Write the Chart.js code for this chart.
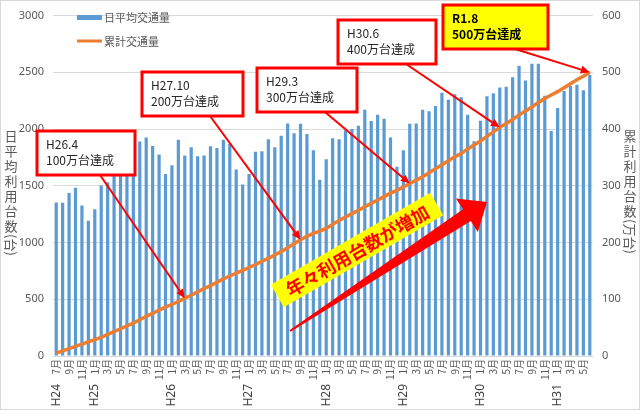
<!DOCTYPE html>
<html>
<head>
<meta charset="utf-8">
<script src="https://cdn.jsdelivr.net/npm/chart.js@4"></script>
<style>
  html, body { margin: 0; padding: 0; background: #fff; }
</style>
</head>
<body>
<canvas id="chart" width="640" height="410"></canvas>
<script>
// months, H24.7 .. H31.6
const months = [
  'H24.7', 'H24.8', 'H24.9', 'H24.10', 'H24.11', 'H24.12',
  'H25.1', 'H25.2', 'H25.3', 'H25.4', 'H25.5', 'H25.6', 'H25.7', 'H25.8', 'H25.9', 'H25.10', 'H25.11', 'H25.12',
  'H26.1', 'H26.2', 'H26.3', 'H26.4', 'H26.5', 'H26.6', 'H26.7', 'H26.8', 'H26.9', 'H26.10', 'H26.11', 'H26.12',
  'H27.1', 'H27.2', 'H27.3', 'H27.4', 'H27.5', 'H27.6', 'H27.7', 'H27.8', 'H27.9', 'H27.10', 'H27.11', 'H27.12',
  'H28.1', 'H28.2', 'H28.3', 'H28.4', 'H28.5', 'H28.6', 'H28.7', 'H28.8', 'H28.9', 'H28.10', 'H28.11', 'H28.12',
  'H29.1', 'H29.2', 'H29.3', 'H29.4', 'H29.5', 'H29.6', 'H29.7', 'H29.8', 'H29.9', 'H29.10', 'H29.11', 'H29.12',
  'H30.1', 'H30.2', 'H30.3', 'H30.4', 'H30.5', 'H30.6', 'H30.7', 'H30.8', 'H30.9', 'H30.10', 'H30.11', 'H30.12',
  'H31.1', 'H31.2', 'H31.3', 'H31.4', 'H31.5', 'H31.6'
];

// 日平均交通量 (台)
const dailyTraffic = [
  1353, 1350, 1437, 1483, 1327, 1192,
  1293, 1503, 1532, 1696, 1678, 1733, 1804, 1890, 1925, 1850, 1776, 1603,
  1681, 1905, 1767, 1839, 1761, 1767, 1848, 1833, 1905, 1868, 1643, 1511,
  1603, 1799, 1804, 1911, 1839, 1942, 2049, 1963, 2046, 1957, 1813, 1554,
  1733, 1920, 1911, 1990, 2000, 2030, 2170, 2071, 2126, 2092, 1925, 1668,
  1813, 2046, 2048, 2170, 2158, 2204, 2320, 2258, 2307, 2280, 2126, 1893,
  2074, 2290, 2316, 2366, 2373, 2456, 2557, 2428, 2575, 2575, 2293, 1984,
  2185, 2336, 2379, 2390, 2342, 2477
];

// 累計交通量 (万台)
const cumulative = [
  5, 9, 13, 17, 21, 25,
  29, 33, 38, 43, 48, 53, 58, 64, 70, 75, 81, 86,
  91, 96, 102, 107, 113, 119, 124, 130, 136, 141, 146, 151,
  156, 161, 167, 172, 178, 184, 191, 198, 205, 211, 216, 220,
  225, 232, 239, 245, 251, 257, 263, 269, 275, 281, 287, 292,
  298, 304, 310, 316, 323, 330, 337, 344, 351, 357, 365, 372,
  379, 387, 395, 403, 410, 417, 425, 432, 439, 447, 454, 460,
  466, 473, 480, 487, 493, 500
];

// milestone callouts: which month the arrow points at
const milestoneIndex = [20, 38, 55, 69, 83];
const milestoneText = [
  ['H26.4', '100万台達成'],
  ['H27.10', '200万台達成'],
  ['H29.3', '300万台達成'],
  ['H30.6', '400万台達成'],
  ['R1.8', '500万台達成']
];

const leftTicks = [0, 3000, 500];
const rightTicks = [0, 600, 100];

const JP = '"Noto Sans CJK JP", "Noto Sans", sans-serif';
const NUM = '"Noto Sans", "DejaVu Sans", sans-serif';
const GREY = '#595959';

// box geometry for the callouts, and where each arrow leaves the box
const boxes = [
  { x: 37, y: 131, w: 98, h: 44, from: [100, 175] },
  { x: 142, y: 72, w: 101, h: 44, from: [210, 116] },
  { x: 257, y: 68, w: 100, h: 44, from: [325, 112] },
  { x: 338, y: 20, w: 98, h: 44, from: [406, 64] },
  { x: 443, y: 5, w: 105, h: 44, from: [515, 49], fill: '#ffff00', bold: true }
];

function arrow(ctx, x0, y0, x1, y1) {
  const a = Math.atan2(y1 - y0, x1 - x0);
  const c = Math.cos(a), s = Math.sin(a);
  const hl = 9, hw = 4;
  ctx.strokeStyle = '#ff0000';
  ctx.fillStyle = '#ff0000';
  ctx.lineWidth = 2;
  ctx.beginPath();
  ctx.moveTo(x0, y0);
  ctx.lineTo(x1 - hl * c, y1 - hl * s);
  ctx.stroke();
  ctx.beginPath();
  ctx.moveTo(x1, y1);
  ctx.lineTo(x1 - hl * c + hw * s, y1 - hl * s - hw * c);
  ctx.lineTo(x1 - hl * c - hw * s, y1 - hl * s + hw * c);
  ctx.closePath();
  ctx.fill();
}

function verticalTitle(ctx, cx, top, chars, unit) {
  ctx.font = '13px ' + JP;
  ctx.fillStyle = GREY;
  ctx.textAlign = 'center';
  ctx.textBaseline = 'middle';
  let y = top;
  for (const ch of chars) {
    ctx.fillText(ch, cx, y + 7);
    y += 15;
  }
  // unit in brackets is turned sideways
  const w = ctx.measureText(unit).width;
  ctx.save();
  ctx.translate(cx, y + w / 2);
  ctx.rotate(Math.PI / 2);
  ctx.fillText(unit, 0, 0);
  ctx.restore();
}

const decorations = {
  id: 'decorations',
  beforeDraw(chart) {
    const ctx = chart.ctx;
    ctx.save();
    ctx.fillStyle = '#fff';
    ctx.fillRect(0, 0, chart.width, chart.height);
    ctx.restore();
  },
  afterDatasetsDraw(chart) {
    const ctx = chart.ctx;
    const xs = chart.scales.x, yr = chart.scales.y1;
    ctx.save();

    // legend, top-left inside the plot
    const ds = chart.data.datasets;
    ctx.font = '11px ' + JP;
    ctx.textAlign = 'left';
    ctx.textBaseline = 'middle';
    ctx.fillStyle = ds[0].backgroundColor;
    ctx.fillRect(77, 15, 25, 5);
    ctx.fillStyle = GREY;
    ctx.fillText(ds[0].label, 104, 18);
    ctx.strokeStyle = ds[1].borderColor;
    ctx.lineWidth = 3;
    ctx.beginPath(); ctx.moveTo(77, 41); ctx.lineTo(102, 41); ctx.stroke();
    ctx.fillText(ds[1].label, 104, 42);

    // yellow banner
    ctx.save();
    ctx.translate(357, 250);
    ctx.rotate(-30 * Math.PI / 180);
    ctx.fillStyle = '#ffff00';
    ctx.fillRect(-92, -13, 184, 26);
    ctx.fillStyle = '#ff0000';
    ctx.font = 'bold 18px ' + JP;
    ctx.textAlign = 'center';
    ctx.textBaseline = 'middle';
    ctx.fillText('年々利用台数が増加', 0, 1);
    ctx.restore();

    // big red arrow
    const tail = [290, 331], tip = [487, 202];
    const len = Math.hypot(tip[0] - tail[0], tip[1] - tail[1]);
    const u = [(tip[0] - tail[0]) / len, (tip[1] - tail[1]) / len];
    const n = [-u[1], u[0]];
    const base = [tip[0] - 24 * u[0], tip[1] - 24 * u[1]];
    const P = (p, k) => [p[0] + k * n[0], p[1] + k * n[1]];
    const pts = [P(tail, -1), P(base, -7), P(base, -20), tip, P(base, 20), P(base, 7), P(tail, 1)];
    ctx.fillStyle = '#ff0000';
    ctx.beginPath();
    pts.forEach((p, i) => i ? ctx.lineTo(p[0], p[1]) : ctx.moveTo(p[0], p[1]));
    ctx.closePath();
    ctx.fill();

    // callout arrows to the cumulative line
    milestoneIndex.forEach((idx, i) => {
      const b = boxes[i];
      arrow(ctx, b.from[0], b.from[1], xs.getPixelForValue(idx), yr.getPixelForValue(cumulative[idx]));
    });

    // callout boxes
    milestoneText.forEach((lines, i) => {
      const b = boxes[i];
      ctx.fillStyle = b.fill || '#fff';
      ctx.fillRect(b.x, b.y, b.w, b.h);
      ctx.strokeStyle = '#ff0000';
      ctx.lineWidth = 3;
      ctx.strokeRect(b.x, b.y, b.w, b.h);
      ctx.fillStyle = b.bold ? '#000' : '#262626';
      ctx.font = (b.bold ? 'bold ' : '') + '12px ' + JP;
      ctx.textAlign = 'left';
      ctx.textBaseline = 'middle';
      ctx.fillText(lines[0], b.x + 9, b.y + 13);
      ctx.fillText(lines[1], b.x + 9, b.y + 29);
    });

    // axis titles, written vertically
    verticalTitle(ctx, 11, 129, '日平均利用台数', '(台)');
    verticalTitle(ctx, 630, 129, '累計利用台数', '(万台)');

    // outer frame
    ctx.strokeStyle = '#d9d9d9';
    ctx.lineWidth = 1;
    ctx.strokeRect(0.5, 0.5, chart.width - 1, chart.height - 1);
    ctx.restore();
  }
};

new Chart(document.getElementById('chart'), {
  data: {
    labels: months,
    datasets: [
      {
        type: 'bar',
        label: '日平均交通量',
        data: dailyTraffic,
        backgroundColor: '#5b9bd5',
        yAxisID: 'y',
        xAxisID: 'x',
        barPercentage: 0.5,
        categoryPercentage: 1,
        order: 2
      },
      {
        type: 'line',
        label: '累計交通量',
        data: cumulative,
        borderColor: '#ed7d31',
        backgroundColor: '#ed7d31',
        borderWidth: 3.5,
        pointRadius: 0,
        tension: 0,
        yAxisID: 'y1',
        xAxisID: 'x',
        order: 1
      }
    ]
  },
  options: {
    responsive: false,
    animation: false,
    layout: { padding: { top: 7, left: 0, right: 0, bottom: 0 } },
    plugins: {
      legend: { display: false },
      tooltip: { enabled: false }
    },
    scales: {
      x: {
        type: 'category',
        position: 'bottom',
        weight: 0,
        offset: true,
        grid: { display: false, drawTicks: false },
        border: { display: true, color: '#d9d9d9' },
        ticks: {
          autoSkip: false,
          minRotation: 90,
          maxRotation: 90,
          padding: 3,
          color: GREY,
          font: { size: 10, family: JP },
          callback: function (value) {
            const m = this.getLabelForValue(value).split('.')[1];
            return (+m % 2 === 1) ? m + '月' : '';
          }
        },
        afterFit: s => { s.height = 24; }
      },
      x2: {
        type: 'category',
        position: 'bottom',
        weight: 1,
        offset: true,
        grid: { display: false, drawTicks: false },
        border: { display: false },
        ticks: {
          autoSkip: false,
          minRotation: 90,
          maxRotation: 90,
          padding: 4,
          color: '#404040',
          font: { size: 12, family: NUM },
          callback: function (value, index) {
            const [y, m] = this.getLabelForValue(value).split('.');
            return (index === 0 || m === '1') ? y : '';
          }
        },
        afterFit: s => { s.height = 30; }
      },
      y: {
        position: 'left',
        min: leftTicks[0],
        max: leftTicks[1],
        grid: { color: '#d9d9d9', drawTicks: false },
        border: { display: false },
        ticks: {
          stepSize: leftTicks[2], padding: 9, color: GREY, font: { size: 11, family: NUM },
          callback: v => String(v)
        },
        afterFit: s => { s.width = 53; }
      },
      y1: {
        position: 'right',
        min: rightTicks[0],
        max: rightTicks[1],
        grid: { drawOnChartArea: false, drawTicks: false },
        border: { display: false },
        ticks: {
          stepSize: rightTicks[2], padding: 9, color: GREY, font: { size: 11, family: NUM },
          callback: v => String(v)
        },
        afterFit: s => { s.width = 47; }
      }
    }
  },
  plugins: [decorations]
});
</script>
</body>
</html>
